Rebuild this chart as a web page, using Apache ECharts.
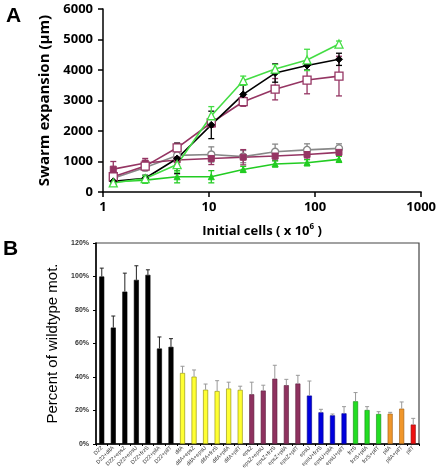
<!DOCTYPE html>
<html><head><meta charset="utf-8">
<script src="https://cdn.jsdelivr.net/npm/echarts@6/dist/echarts.min.js"></script>
<style>html,body{margin:0;padding:0;background:#fff}#c{width:439px;height:476px}</style>
</head><body><div id="c"></div>
<script>
// ---------- Panel A data ----------
const cellsX = [1.25, 2.5, 5, 10.5, 21, 42, 84, 168];
const xTicksA = [1, 10, 100, 1000];
const blackDiamond = [350, 450, 1100, 2200, 3200, 3900, 4150, 4350];
const blackDiamondErr = [100, 100, 500, 450, 300, 300, 150, 200];
const greenOpenTri = [300, 440, 900, 2500, 3650, 4030, 4330, 4850];
const greenOpenTriErr = [100, 100, 250, 300, 150, 150, 350, 100];
const purpleOpenSq = [500, 850, 1450, 2270, 2960, 3370, 3670, 3800];
const purpleOpenSqErr = [150, 150, 150, 150, 150, 350, 450, 650];
const grayOpenCirc = [450, 800, 1200, 1230, 1160, 1320, 1380, 1430];
const grayOpenCircErr = [100, 100, 200, 250, 200, 250, 200, 150];
const purpleFilledSq = [750, 950, 1050, 1100, 1140, 1180, 1230, 1300];
const purpleFilledSqErr = [250, 150, 150, 200, 250, 150, 150, 100];
const greenFilledTri = [340, 390, 500, 500, 740, 920, 960, 1070];
const greenFilledTriErr = [100, 100, 200, 200, 100, 100, 100, 100];

// ---------- Panel B data ----------
const strains = ['D22','D22+difA','D22+epsZ','D22+epsU','D22+frzS','D22+pilA','D22+pilT',
  'difA','difA+epsZ','difA+epsU','difA+frzS','difA+pilA','difA+pilT',
  'epsZ','epsZ+epsU','epsZ+frzS','epsZ+pilA','epsZ+pilT',
  'epsU','epsU+frzS','epsU+pilA','epsU+pilT',
  'frzS','frzS+pilA','frzS+pilT',
  'pilA','pilA+pilT','pilT'];
const motility = [100, 69.5, 91, 98, 101, 57, 58,
  42.4, 40.2, 32.4, 31.6, 33.1, 32.3,
  29.7, 31.9, 39, 35.1, 36.1,
  28.9, 18.9, 17.1, 18.3,
  25.5, 20.3, 17.9,
  18.1, 21.1, 11.6];
const motilityErrTop = [105, 76.4, 102, 106.4, 104, 63.9, 62.9,
  46.4, 44.2, 35.8, 37.8, 36.9, 34.5,
  36.9, 35.1, 47, 38.6, 41,
  37.6, 20.7, 17.9, 22.3,
  30.7, 22.3, 19.3,
  18.9, 25.1, 15.3];
const groupSizes = [7, 6, 5, 4, 3, 2, 1];
const groupColors = ['#000000', '#ffff33', '#8e325f', '#0000dd', '#22dd22', '#f0962a', '#ee1111'];
const groupBorders = ['#000000', '#8a8a00', '#5a1e3c', '#000088', '#118811', '#9a5a10', '#881111'];

const barColors = [], barBorders = [], errColors = [];
groupSizes.forEach((n, g) => { for (let i = 0; i < n; i++) { barColors.push(groupColors[g]); barBorders.push(groupBorders[g]); errColors.push(g === 0 ? '#222' : '#999'); } });

const chart = echarts.init(document.getElementById('c'), null, {renderer: 'canvas'});
const fontA = '"Open Sans", "Liberation Sans", sans-serif';
const fontB = '"Liberation Sans", Arial, sans-serif';

function lineSeries(name, vals, color, symbol, size, filled) {
  return {
    type: 'line', name, xAxisIndex: 0, yAxisIndex: 0,
    data: cellsX.map((x, i) => [x, vals[i]]),
    symbol, symbolSize: size, z: 3,
    lineStyle: {color, width: 1.6},
    itemStyle: filled ? {color, borderColor: color, borderWidth: 1} : {color: '#fff', borderColor: color, borderWidth: 1.3},
    showSymbol: true, animation: false
  };
}
function errSeriesA(vals, errs, color) {
  return {
    type: 'custom', xAxisIndex: 0, yAxisIndex: 0, z: 2, animation: false,
    data: cellsX.map((x, i) => [x, vals[i] - errs[i], vals[i] + errs[i]]),
    renderItem: function (params, api) {
      const lo = api.coord([api.value(0), api.value(1)]);
      const hi = api.coord([api.value(0), api.value(2)]);
      const w = 3;
      const st = {stroke: color, lineWidth: 1.3};
      return {type: 'group', children: [
        {type: 'line', shape: {x1: lo[0], y1: lo[1], x2: hi[0], y2: hi[1]}, style: st},
        {type: 'line', shape: {x1: lo[0] - w, y1: lo[1], x2: lo[0] + w, y2: lo[1]}, style: st},
        {type: 'line', shape: {x1: hi[0] - w, y1: hi[1], x2: hi[0] + w, y2: hi[1]}, style: st}
      ]};
    }
  };
}

const option = {
  backgroundColor: '#fff',
  animation: false,
  graphic: [
    {type: 'text', left: 6, top: 6, style: {text: 'A', font: 'bold 21px "Liberation Sans", Arial, sans-serif', fill: '#000'}},
    {type: 'text', left: 3, top: 239, style: {text: 'B', font: 'bold 21px "Liberation Sans", Arial, sans-serif', fill: '#000'}}
  ],
  grid: [
    {left: 103, top: 9, width: 326, height: 183, containLabel: false},
    {left: 96, top: 243, width: 323, height: 201, containLabel: false, show: true, borderColor: '#444', borderWidth: 1.2}
  ],
  xAxis: [
    {type: 'log', gridIndex: 0, logBase: 10, min: xTicksA[0], max: xTicksA[xTicksA.length - 1],
     axisLine: {lineStyle: {color: '#000', width: 1.5}},
     axisTick: {show: true, length: 5, inside: false, lineStyle: {color: '#000', width: 1.5}},
     minorTick: {show: false}, splitLine: {show: false},
     axisLabel: {color: '#000', fontFamily: fontA, fontWeight: 'bold', fontSize: 13, margin: 9, formatter: v => String(Math.round(v))},
     name: 'Initial cells ( x 10{sup|6} )', nameLocation: 'middle', nameGap: 31,
     nameTextStyle: {color: '#000', fontFamily: fontA, fontWeight: 'bold', fontSize: 13,
       rich: {sup: {fontSize: 8, fontWeight: 'bold', fontFamily: fontA, verticalAlign: 'top', padding: [0, 0, 8, 0]}}}},
    {type: 'category', gridIndex: 1, data: strains,
     axisLine: {lineStyle: {color: '#000', width: 1.5}},
     axisTick: {show: true, length: 2, lineStyle: {color: '#000'}},
     axisLabel: {color: '#333', fontFamily: fontB, fontSize: 5.5, rotate: 45, margin: 3, interval: 0}}
  ],
  yAxis: [
    {type: 'value', gridIndex: 0, min: 0, max: 6000, interval: 1000,
     axisLine: {show: true, lineStyle: {color: '#000', width: 1.5}},
     axisTick: {show: true, length: 5, lineStyle: {color: '#000', width: 1.5}},
     splitLine: {show: false},
     axisLabel: {color: '#000', fontFamily: fontA, fontWeight: 'bold', fontSize: 13, margin: 10, formatter: v => String(v)},
     name: 'Swarm expansion (µm)', nameLocation: 'middle', nameGap: 46,
     nameTextStyle: {color: '#000', fontFamily: fontA, fontWeight: 'bold', fontSize: 15}},
    {type: 'value', gridIndex: 1, min: 0, max: 120, interval: 20,
     axisLine: {show: true, lineStyle: {color: '#000', width: 1.5}},
     axisTick: {show: true, length: 3, lineStyle: {color: '#000'}},
     splitLine: {show: false},
     axisLabel: {color: '#333', fontFamily: fontB, fontWeight: 'bold', fontSize: 7, margin: 7, formatter: '{value}%'},
     name: 'Percent of wildtype mot.', nameLocation: 'middle', nameGap: 28,
     nameTextStyle: {color: '#000', fontFamily: fontB, fontSize: 15}}
  ],
  series: [
    errSeriesA(grayOpenCirc, grayOpenCircErr, '#888'),
    errSeriesA(purpleFilledSq, purpleFilledSqErr, '#953563'),
    errSeriesA(greenFilledTri, greenFilledTriErr, '#22cc22'),
    errSeriesA(purpleOpenSq, purpleOpenSqErr, '#953563'),
    errSeriesA(blackDiamond, blackDiamondErr, '#000'),
    errSeriesA(greenOpenTri, greenOpenTriErr, '#44dd44'),
    lineSeries('gray', grayOpenCirc, '#888', 'circle', 7, false),
    lineSeries('purpleF', purpleFilledSq, '#953563', 'rect', 6, true),
    lineSeries('greenF', greenFilledTri, '#22cc22', 'triangle', 6, true),
    lineSeries('purpleO', purpleOpenSq, '#953563', 'rect', 8, false),
    lineSeries('black', blackDiamond, '#000', 'diamond', 7, true),
    lineSeries('greenO', greenOpenTri, '#44dd44', 'triangle', 8, false),
    {
      type: 'bar', xAxisIndex: 1, yAxisIndex: 1, barWidth: 5, animation: false,
      data: motility.map((v, i) => ({value: v, itemStyle: {color: barColors[i], borderColor: barBorders[i], borderWidth: 0.6}}))
    },
    {
      type: 'custom', xAxisIndex: 1, yAxisIndex: 1, z: 3, animation: false,
      data: motility.map((v, i) => [i, v, motilityErrTop[i]]),
      renderItem: function (params, api) {
        const lo = api.coord([api.value(0), api.value(1)]);
        const hi = api.coord([api.value(0), api.value(2)]);
        const c = errColors[params.dataIndex];
        const st = {stroke: c, lineWidth: 1};
        return {type: 'group', children: [
          {type: 'line', shape: {x1: lo[0], y1: lo[1], x2: hi[0], y2: hi[1]}, style: st},
          {type: 'line', shape: {x1: hi[0] - 2, y1: hi[1], x2: hi[0] + 2, y2: hi[1]}, style: st}
        ]};
      }
    }
  ]
};
chart.setOption(option);
</script>
</body></html>
